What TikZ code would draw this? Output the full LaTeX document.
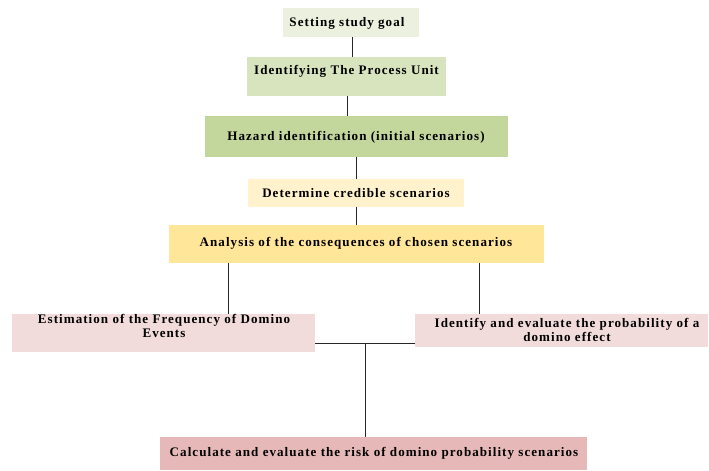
\documentclass[tikz,border=0pt]{standalone}
\usepackage{fontspec}
\setmainfont{Liberation Serif}[LetterSpace=8]
\definecolor{g1}{HTML}{EBF1DE}
\definecolor{g2}{HTML}{D7E4BD}
\definecolor{g3}{HTML}{C3D69B}
\definecolor{y1}{HTML}{FFF2CC}
\definecolor{y2}{HTML}{FFE699}
\definecolor{p1}{HTML}{F2DCDB}
\definecolor{p2}{HTML}{E6B9B8}
\tikzset{
  boxx/.style={draw=none,inner sep=0pt,outer sep=0pt},
  txt/.style={inner sep=0pt,font=\fontsize{13.1}{14}\selectfont\bfseries,align=center},
  conn/.style={draw=black!85,line width=1pt}
}
\newcommand{\bx}[6]{% name, color, x1, y1, x2, y2
  \node[boxx,fill=#2,minimum width={#5-#3},minimum height={#6-#4}] (#1) at ({(#3+#5)/2},{(#4+#6)/2}) {};}
\begin{document}
\begin{tikzpicture}[x=1bp,y=-1bp]
\useasboundingbox (0,0) rectangle (709,471);
\bx{b1}{g1}{283}{8}{419}{37}
\bx{b2}{g2}{247}{57}{446}{96}
\bx{b3}{g3}{204}{116}{509}{157}
\bx{b4}{y1}{248}{179}{464}{207}
\bx{b5}{y2}{168}{225}{545}{263}
\bx{b6}{p1}{11}{314}{316}{352}
\bx{b7}{p1}{414}{314}{709}{347}
\bx{b8}{p2}{159}{437}{588}{470}
\node[txt] (t1) at (347,23) {Setting study goal};
\node[txt] (t2) at (346.5,71) {Identifying The Process Unit};
\node[txt] (t3) at (356,137) {Hazard identification (initial scenarios)};
\node[txt] (t4) at (356,193) {Determine credible scenarios};
\node[txt] (t5) at (356,243) {Analysis of the consequences of chosen scenarios};
\node[txt] (t6) at (164,326) {Estimation of the Frequency of Domino\\Events};
\node[txt] (t7) at (567,330) {Identify and evaluate the probability of a\\domino effect};
\node[txt] (t8) at (374,453) {Calculate and evaluate the risk of domino probability scenarios};
\coordinate (j) at (365,343);
\draw[conn] (b1.south -| 352,0) -- (b2.north -| 352,0);
\draw[conn] (b2.south -| 347,0) -- (b3.north -| 347,0);
\draw[conn] (b3.south -| 356,0) -- (b4.north -| 356,0);
\draw[conn] (b4.south -| 356,0) -- (b5.north -| 356,0);
\draw[conn] (b5.south -| 228,0) -- (b6.north -| 228,0);
\draw[conn] (b5.south -| 479,0) -- (b7.north -| 479,0);
\draw[conn] (b6.east |- j) -- (b7.west |- j);
\draw[conn] (j) -- (b8.north -| j);
\end{tikzpicture}
\end{document}
